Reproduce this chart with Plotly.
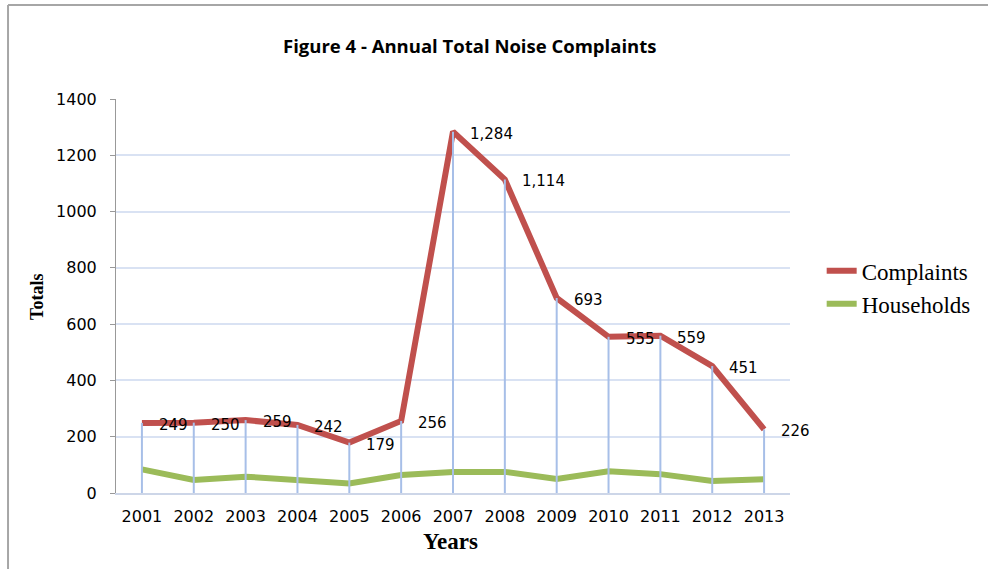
import plotly.graph_objects as go

years = ["2001", "2002", "2003", "2004", "2005", "2006", "2007",
         "2008", "2009", "2010", "2011", "2012", "2013"]
complaints = [249, 250, 259, 242, 179, 256, 1284, 1114, 693, 555, 559, 451, 226]
households = [84, 46, 58, 44, 34, 64, 75, 75, 50, 77, 67, 43, 49]
complaint_labels = ["249", "250", "259", "242", "179", "256", "1,284",
                    "1,114", "693", "555", "559", "451", "226"]
y_ticks = [0, 200, 400, 600, 800, 1000, 1200, 1400]

RED = "#c0504d"
GREEN = "#9bbb59"
DROP = "#a7bfe8"

fig = go.Figure()
fig.add_trace(go.Scatter(x=years, y=complaints, mode="lines", name="Complaints",
                         line=dict(color=RED, width=6)))
fig.add_trace(go.Scatter(x=years, y=households, mode="lines", name="Households",
                         line=dict(color=GREEN, width=6)))

# drop lines from complaints points to axis
dx, dy = [], []
for x, v in zip(years, complaints):
    dx += [x, x, None]
    dy += [0, v, None]
fig.add_trace(go.Scatter(x=dx, y=dy, mode="lines", showlegend=False,
                         line=dict(color=DROP, width=2), hoverinfo="skip"))

annotations = []
for i, (v, t) in enumerate(zip(complaints, complaint_labels)):
    annotations.append(dict(x=i, y=v, xref="x", yref="y", text=t, showarrow=False,
                            xanchor="left", yanchor="middle", xshift=15, yshift=-2,
                            font=dict(family="DejaVu Sans", size=15, color="#000")))

annotations += [
    dict(text="<b>Figure 4 - Annual Total Noise Complaints</b>", xref="paper", yref="paper",
         x=0.525, y=1.137, showarrow=False, xanchor="center", yanchor="middle",
         font=dict(family="Open Sans", size=18.5, color="#000")),
    dict(text="<b>Years</b>", xref="paper", yref="paper", x=0.497, y=-0.123,
         showarrow=False, xanchor="center", yanchor="middle",
         font=dict(family="Liberation Serif", size=23, color="#000")),
    dict(text="<b>Totals</b>", xref="paper", yref="paper", x=-0.117, y=0.498,
         showarrow=False, xanchor="center", yanchor="middle", textangle=-90,
         font=dict(family="Liberation Serif", size=18, color="#000")),
]

fig.update_layout(
    width=988, height=569,
    margin=dict(l=116, r=198, t=99, b=75.5),
    paper_bgcolor="white", plot_bgcolor="white",
    showlegend=True,
    legend=dict(x=1.047, y=0.522, xanchor="left", yanchor="middle",
                font=dict(family="Liberation Serif", size=23, color="#000"),
                bgcolor="rgba(0,0,0,0)", tracegroupgap=0),
    annotations=annotations,
    shapes=[
        dict(type="line", xref="paper", yref="paper", x0=-0.1602, x1=1.35,
             y0=1.2383, y1=1.2383, line=dict(color="#a6a6a6", width=2)),
        dict(type="line", xref="paper", yref="paper", x0=-0.1602, x1=-0.1602,
             y0=1.2383, y1=-0.25, line=dict(color="#a6a6a6", width=2)),
    ],
)
fig.update_xaxes(type="category", range=[-0.5, 12.5], showgrid=False,
                 showline=True, linecolor="#cdd6e8", linewidth=2,
                 ticks="", ticklabelstandoff=8,
                 tickfont=dict(family="DejaVu Sans", size=16, color="#000"),
                 zeroline=False)
fig.update_yaxes(range=[0, 1400], tickvals=y_ticks, showgrid=True, gridcolor="#d9e2f3",
                 gridwidth=1.5, showline=True, linecolor="#999999", linewidth=1,
                 ticks="outside", ticklen=5, tickcolor="#999999", ticklabelstandoff=10,
                 tickfont=dict(family="DejaVu Sans", size=16, color="#000"),
                 zeroline=False)

fig.write_html("out.html", config={"displayModeBar": False},
               post_script="document.body.style.margin='0';")
